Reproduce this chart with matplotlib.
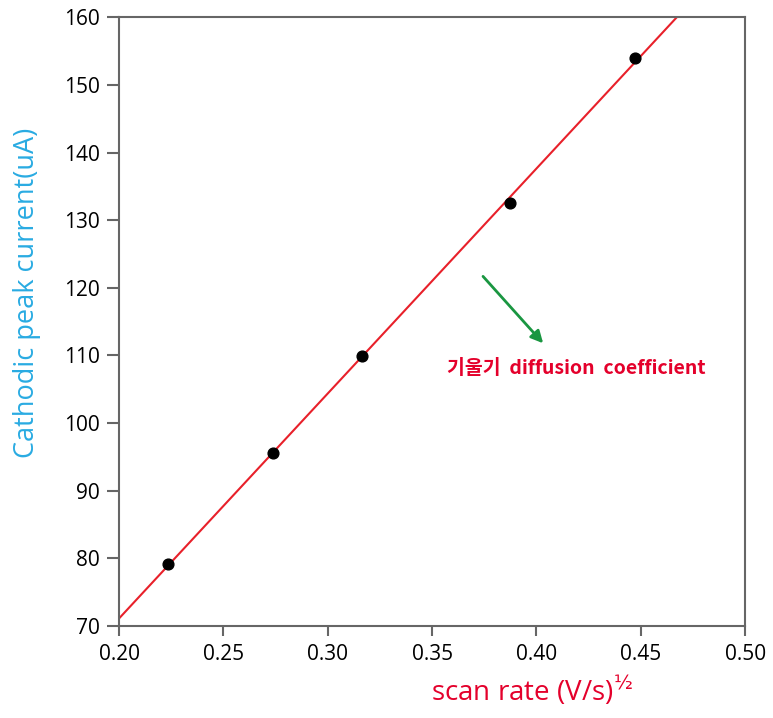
import numpy as np
import matplotlib.pyplot as plt

# scan rate^(1/2) vs cathodic peak current
scan_rate_sqrt = [0.2236, 0.2739, 0.3162, 0.3873, 0.4472]
peak_current = [79.2, 95.6, 109.9, 132.6, 153.9]

x_ticks = [0.20, 0.25, 0.30, 0.35, 0.40, 0.45, 0.50]
y_ticks = [70, 80, 90, 100, 110, 120, 130, 140, 150, 160]

plt.rcParams['font.family'] = ['Open Sans', 'DejaVu Sans']

fig = plt.figure(figsize=(7.73, 7.18), dpi=100)
ax = fig.add_axes([0.154, 0.128, 0.81, 0.848])

# linear fit
slope, intercept = np.polyfit(scan_rate_sqrt, peak_current, 1)
xx = np.array([0.20, 0.50])
ax.plot(xx, slope * xx + intercept, color='#e8202a', lw=1.5, zorder=2)
ax.scatter(scan_rate_sqrt, peak_current, s=60, color='black', zorder=3)

ax.set_xlim(0.20, 0.50)
ax.set_ylim(70, 160)
ax.set_xticks(x_ticks)
ax.set_xticklabels(['%.2f' % t for t in x_ticks])
ax.set_yticks(y_ticks)

for s in ax.spines.values():
    s.set_color('#666666')
    s.set_linewidth(1.5)
ax.tick_params(axis='x', direction='out', length=7, width=1.5, color='#666666',
               labelsize=15, pad=6)
ax.tick_params(axis='y', direction='out', length=9, width=1.5, color='#666666',
               labelsize=15, pad=5)

ax.set_ylabel('Cathodic peak current(uA)', color='#29abe2', fontsize=19.5)
ax.yaxis.set_label_coords(-0.125, 0.548)
fig.text(0.688, 0.038, 'scan rate (V/s)$^{½}$', color='#e4002b', fontsize=20,
         ha='center', va='center')

# slope annotation
ax.annotate('', xy=(0.4041, 111.5), xytext=(0.3735, 122.0),
            arrowprops=dict(arrowstyle='-|>', color='#1a9641', lw=2,
                            mutation_scale=18))
ax.text(0.357, 108.1, '기울기  diffusion  coefficient', color='#e4002b',
        fontsize=14, ha='left', va='center', fontweight='bold',
        family=['Liberation Sans Narrow', 'Noto Sans CJK KR'])

plt.savefig('out.png', dpi=100)
